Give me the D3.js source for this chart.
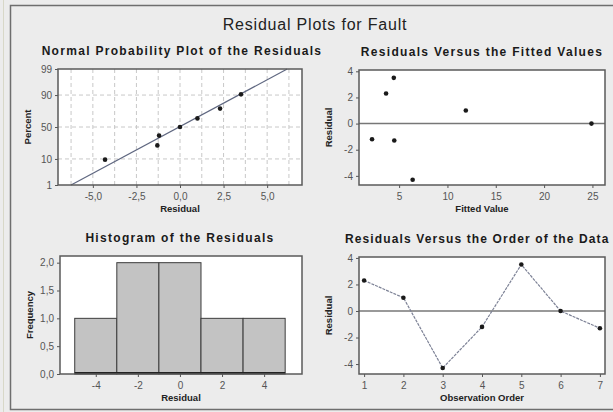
<!DOCTYPE html>
<html>
<head>
<meta charset="utf-8">
<script src="https://cdn.jsdelivr.net/npm/d3@7"></script>
<style>
  html, body { margin: 0; padding: 0; background: #ececec; }
  svg { display: block; font-family: "Liberation Sans", Arial, sans-serif; }
</style>
</head>
<body>
<div id="chart"></div>
<script>
// Data
const residuals = [2.3, 1.0, -4.3, -1.2, 3.5, 0.0, -1.3];
const fittedValues = [3.65, 11.9, 6.4, 2.2, 4.45, 24.9, 4.5];
const observationOrder = [1, 2, 3, 4, 5, 6, 7];

const sortedResiduals = [-4.3, -1.3, -1.2, 0.0, 1.0, 2.3, 3.5];
const probPercents = [9.5, 23, 36.5, 50, 63.5, 77, 90.5];
const fitLineResidual = [-6.25, 6.15];
const fitLinePercent = [1, 99];
const percentTicks = [1, 10, 50, 90, 99];
const residualTicks = [-5, -2.5, 0, 2.5, 5];

const binEdges = [-5, -3, -1, 1, 3, 5];
const binCounts = [1, 2, 2, 1, 1];
const histXTicks = [-4, -2, 0, 2, 4];
const freqTicks = [0, 0.5, 1, 1.5, 2];

const fittedTicks = [5, 10, 15, 20, 25];
const residTicks = [-4, -2, 0, 2, 4];

const width = 613, height = 412;

const svg = d3.select('#chart')
  .append('svg')
  .attr('width', width)
  .attr('height', height);

// Background + frame
svg.append('rect')
  .attr('width', width).attr('height', height)
  .attr('fill', '#ececec');
svg.append('rect')
  .attr('x', 10.5).attr('y', 5.5)
  .attr('width', width).attr('height', 404)
  .attr('fill', 'none')
  .attr('stroke', '#6e6e6e')
  .attr('stroke-width', 1.5);
svg.append('line')
  .attr('x1', 3.5).attr('x2', 3.5).attr('y1', 0).attr('y2', height)
  .attr('stroke', '#d8d8c8');

// Main title
svg.append('text')
  .attr('x', 315).attr('y', 30)
  .attr('text-anchor', 'middle')
  .attr('font-size', 16)
  .attr('letter-spacing', 0.8)
  .attr('fill', '#222')
  .text('Residual Plots for Fault');

// inverse normal CDF (probability paper scale)
function probit(p) {
  const q = p < 0.5 ? p : 1 - p;
  const t = Math.sqrt(-2 * Math.log(q));
  const z = t - (2.515517 + 0.802853 * t + 0.010328 * t * t) /
    (1 + 1.432788 * t + 0.189269 * t * t + 0.001308 * t * t * t);
  return p < 0.5 ? -z : z;
}
const toZ = pct => probit(pct / 100);

const fmtComma = d => d3.format('.1f')(d).replace('.', ',').replace('−', '-');
const fmtInt = d => String(d).replace('−', '-');

// Panel helper
function panel(box, opts) {
  const g = svg.append('g');

  g.append('rect')
    .attr('x', box.x0).attr('y', box.y0)
    .attr('width', box.x1 - box.x0).attr('height', box.y1 - box.y0)
    .attr('fill', '#fff');

  // subtitle
  const sub = g.append('text')
    .attr('y', box.y0 - 14)
    .attr('font-size', 12)
    .attr('font-weight', 'bold')
    .attr('letter-spacing', 1.3)
    .attr('fill', '#1a1a1a')
    .text(opts.title);
  if (opts.titleFit) {
    // squeeze into the space left before the right edge
    sub.attr('x', opts.titleFit[0])
      .attr('letter-spacing', 0.6)
      .attr('textLength', opts.titleFit[1])
      .attr('lengthAdjust', 'spacing');
  } else {
    sub.attr('x', opts.titleX).attr('text-anchor', 'middle');
  }

  // x axis
  const xAxis = d3.axisBottom(opts.x)
    .tickValues(opts.xTicks)
    .tickSize(3)
    .tickFormat(opts.xFormat);
  const gx = g.append('g')
    .attr('transform', `translate(0,${box.y1})`)
    .call(xAxis);
  gx.select('.domain').remove();
  gx.selectAll('line').attr('stroke', '#555');
  gx.selectAll('text')
    .attr('font-size', 10)
    .attr('fill', '#555')
    .attr('dy', '0.9em');

  // y axis
  const yAxis = d3.axisLeft(opts.y)
    .tickValues(opts.yTicks)
    .tickSize(3)
    .tickFormat(opts.yFormat);
  const gy = g.append('g')
    .attr('transform', `translate(${box.x0},0)`)
    .call(yAxis);
  gy.select('.domain').remove();
  gy.selectAll('line').attr('stroke', '#555');
  gy.selectAll('text')
    .attr('font-size', 10)
    .attr('fill', '#555');

  // axis titles
  g.append('text')
    .attr('x', (box.x0 + box.x1) / 2).attr('y', box.y1 + 27)
    .attr('text-anchor', 'middle')
    .attr('font-size', 9.5)
    .attr('font-weight', 'bold')
    .attr('fill', '#222')
    .text(opts.xLabel);
  g.append('text')
    .attr('transform', `translate(${box.x0 - 27},${(box.y0 + box.y1) / 2}) rotate(-90)`)
    .attr('text-anchor', 'middle')
    .attr('font-size', 9.5)
    .attr('font-weight', 'bold')
    .attr('fill', '#222')
    .text(opts.yLabel);

  const plot = g.append('g');

  // border (drawn last)
  g.append('rect')
    .attr('x', box.x0).attr('y', box.y0)
    .attr('width', box.x1 - box.x0).attr('height', box.y1 - box.y0)
    .attr('fill', 'none')
    .attr('stroke', '#5a5a5a')
    .attr('stroke-width', 1.5);

  return plot;
}

// 1. Normal probability plot
const b1 = { x0: 58, x1: 302, y0: 69, y1: 185 };
const x1 = d3.scaleLinear().domain([-7, 7]).range([b1.x0, b1.x1]);
const zScale = d3.scaleLinear()
  .domain([toZ(1), toZ(99)])
  .range([b1.y1, b1.y0]);
const y1 = pct => zScale(toZ(pct));

const p1 = panel(b1, {
  title: 'Normal Probability Plot of the Residuals', titleX: 182,
  x: x1, xTicks: residualTicks, xFormat: fmtComma, xLabel: 'Residual',
  y: zScale, yTicks: percentTicks.map(toZ), yFormat: (d, i) => percentTicks[i], yLabel: 'Percent'
});

// grid
const gridX = d3.range(-6.25, 7, 1.25);
p1.selectAll('.vgrid')
  .data(gridX)
  .join('line')
  .attr('x1', d => x1(d)).attr('x2', d => x1(d))
  .attr('y1', b1.y0).attr('y2', b1.y1)
  .attr('stroke', '#c8c8c8')
  .attr('stroke-dasharray', '4,3');
p1.selectAll('.hgrid')
  .data([10, 50, 90])
  .join('line')
  .attr('x1', b1.x0).attr('x2', b1.x1)
  .attr('y1', d => y1(d)).attr('y2', d => y1(d))
  .attr('stroke', '#c8c8c8')
  .attr('stroke-dasharray', '4,3');

p1.append('line')
  .attr('x1', x1(fitLineResidual[0])).attr('y1', y1(fitLinePercent[0]))
  .attr('x2', x1(fitLineResidual[1])).attr('y2', y1(fitLinePercent[1]))
  .attr('stroke', '#5f6780')
  .attr('stroke-width', 1.2);

p1.selectAll('circle')
  .data(sortedResiduals)
  .join('circle')
  .attr('cx', d => x1(d))
  .attr('cy', (d, i) => y1(probPercents[i]))
  .attr('r', 2.3)
  .attr('fill', '#1a1a1a');

// 2. Residuals vs fitted
const b2 = { x0: 359, x1: 605, y0: 70, y1: 185 };
const x2 = d3.scaleLinear().domain([0.85, 26.3]).range([b2.x0, b2.x1]);
const y2 = d3.scaleLinear().domain([-4.7, 4.1]).range([b2.y1, b2.y0]);

const p2 = panel(b2, {
  title: 'Residuals Versus the Fitted Values', titleX: 482,
  x: x2, xTicks: fittedTicks, xFormat: fmtInt, xLabel: 'Fitted Value',
  y: y2, yTicks: residTicks, yFormat: fmtInt, yLabel: 'Residual'
});

p2.append('line')
  .attr('x1', b2.x0).attr('x2', b2.x1)
  .attr('y1', y2(0)).attr('y2', y2(0))
  .attr('stroke', '#777')
  .attr('stroke-width', 1.5);

p2.selectAll('circle')
  .data(residuals)
  .join('circle')
  .attr('cx', (d, i) => x2(fittedValues[i]))
  .attr('cy', d => y2(d))
  .attr('r', 2.3)
  .attr('fill', '#1a1a1a');

// 3. Histogram
const b3 = { x0: 60, x1: 302, y0: 256, y1: 374 };
const x3 = d3.scaleLinear().domain([-5.7, 5.8]).range([b3.x0, b3.x1]);
const y3 = d3.scaleLinear().domain([0, 2.12]).range([b3.y1, b3.y0]);

const p3 = panel(b3, {
  title: 'Histogram of the Residuals', titleX: 180,
  x: x3, xTicks: histXTicks, xFormat: fmtInt, xLabel: 'Residual',
  y: y3, yTicks: freqTicks, yFormat: fmtComma, yLabel: 'Frequency'
});

p3.selectAll('rect')
  .data(binCounts)
  .join('rect')
  .attr('x', (d, i) => x3(binEdges[i]))
  .attr('width', (d, i) => x3(binEdges[i + 1]) - x3(binEdges[i]))
  .attr('y', d => y3(d))
  .attr('height', d => y3(0) - y3(d))
  .attr('fill', '#c3c3c3')
  .attr('stroke', '#3c3c3c')
  .attr('stroke-width', 1);

p3.append('line')
  .attr('x1', x3(binEdges[0])).attr('x2', x3(binEdges[binEdges.length - 1]))
  .attr('y1', y3(0) - 1).attr('y2', y3(0) - 1)
  .attr('stroke', '#222')
  .attr('stroke-width', 2);

// 4. Residuals vs order
const b4 = { x0: 359, x1: 605, y0: 257, y1: 374 };
const x4 = d3.scaleLinear().domain([0.87, 7.13]).range([b4.x0, b4.x1]);
const y4 = d3.scaleLinear().domain([-4.75, 4.07]).range([b4.y1, b4.y0]);

const p4 = panel(b4, {
  title: 'Residuals Versus the Order of the Data', titleFit: [345, 264],
  x: x4, xTicks: observationOrder, xFormat: fmtInt, xLabel: 'Observation Order',
  y: y4, yTicks: residTicks, yFormat: fmtInt, yLabel: 'Residual'
});

p4.append('line')
  .attr('x1', b4.x0).attr('x2', b4.x1)
  .attr('y1', y4(0)).attr('y2', y4(0))
  .attr('stroke', '#777')
  .attr('stroke-width', 1.5);

p4.append('path')
  .datum(residuals)
  .attr('d', d3.line()
    .x((d, i) => x4(observationOrder[i]))
    .y(d => y4(d)))
  .attr('fill', 'none')
  .attr('stroke', '#7d8296')
  .attr('stroke-width', 1.2)
  .attr('stroke-dasharray', '3,1');

p4.selectAll('circle')
  .data(residuals)
  .join('circle')
  .attr('cx', (d, i) => x4(observationOrder[i]))
  .attr('cy', d => y4(d))
  .attr('r', 2.3)
  .attr('fill', '#1a1a1a');
</script>
</body>
</html>
